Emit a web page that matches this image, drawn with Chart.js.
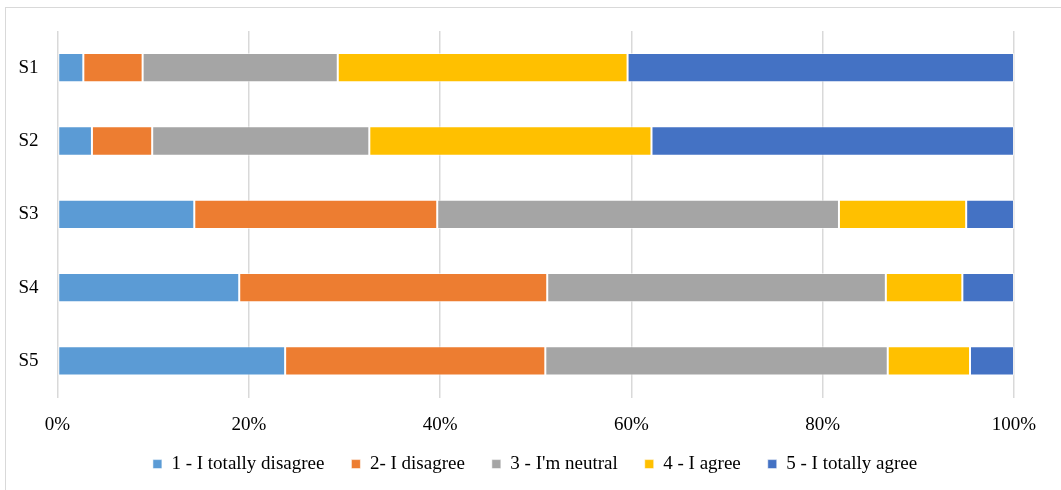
<!DOCTYPE html>
<html>
<head>
<meta charset="utf-8">
<script src="https://cdn.jsdelivr.net/npm/chart.js@4/dist/chart.umd.min.js"></script>
<style>
  html, body { margin: 0; padding: 0; background: #fff; }
  #wrap { position: relative; width: 1061px; height: 490px; overflow: hidden; }
  #frame { position: absolute; left: 5px; top: 7px; width: 1060px; height: 490px; border: 1.5px solid #d9d9d9; box-sizing: border-box; pointer-events: none; }
  canvas { position: absolute; left: 0; top: 0; }
</style>
</head>
<body>
<div id="wrap">
  <canvas id="c" width="1061" height="490"></canvas>
  <div id="frame"></div>
</div>
<script>
// Statements and answer shares (percent of respondents)
const statements = ['S1', 'S2', 'S3', 'S4', 'S5'];
const seriesNames = ['1 - I totally disagree', '2- I disagree', "3 - I'm neutral", '4 - I agree', '5 - I totally agree'];
const totallyDisagree = [2.7, 3.6, 14.3, 19.0, 23.8];
const disagree        = [6.2, 6.3, 25.4, 32.2, 27.2];
const neutral         = [20.4, 22.7, 42.0, 35.4, 35.8];
const agree           = [30.3, 29.5, 13.3, 8.0, 8.6];
const totallyAgree    = [40.4, 37.9, 5.0, 5.4, 4.6];
const tickLabels = ['0%', '20%', '40%', '60%', '80%', '100%'];

const colors = ['#5B9BD5', '#ED7D31', '#A5A5A5', '#FFC000', '#4472C4'];
const values = [totallyDisagree, disagree, neutral, agree, totallyAgree];

const fontFamily = '"Liberation Serif", "Times New Roman", serif';

// Nudges the legend block so it sits centred under the whole frame, close to the axis labels
const legendOffset = {
  id: 'legendOffset',
  afterLayout(chart) {
    const l = chart.legend;
    if (!l) return;
    const dx = 28, dy = -10;
    l.left += dx; l.right += dx;
    l.top += dy; l.bottom += dy;
  }
};

new Chart(document.getElementById('c'), {
  type: 'bar',
  data: {
    labels: statements,
    datasets: seriesNames.map((name, i) => ({
      label: name,
      data: values[i],
      backgroundColor: colors[i],
      borderColor: 'rgba(255,255,255,0.55)',
      borderWidth: 1,
      borderSkipped: false,
      barPercentage: 0.4,
      categoryPercentage: 1.0
    }))
  },
  plugins: [legendOffset],
  options: {
    indexAxis: 'y',
    responsive: false,
    animation: false,
    devicePixelRatio: 1,
    layout: { padding: { top: 31, right: 47, left: 0, bottom: -3.6 } },
    scales: {
      x: {
        stacked: true,
        min: 0,
        max: 100,
        ticks: {
          stepSize: 20,
          padding: 16.5,
          color: '#000',
          font: { family: fontFamily, size: 19 },
          callback: (v, i) => tickLabels[i]
        },
        grid: { color: '#d9d9d9', lineWidth: 1.5, drawTicks: false },
        border: { display: false },
        afterFit: (axis) => { axis.height = 40; }
      },
      y: {
        stacked: true,
        ticks: {
          color: '#000',
          padding: 11,
          font: { family: fontFamily, size: 19 }
        },
        grid: { display: false },
        border: { display: false },
        afterFit: (axis) => { axis.width = 57.5; }
      }
    },
    plugins: {
      legend: {
        position: 'bottom',
        labels: {
          boxWidth: 9,
          boxHeight: 9,
          padding: 27,
          color: '#000',
          font: { family: fontFamily, size: 19 }
        }
      },
      tooltip: { enabled: false }
    }
  }
});
</script>
</body>
</html>
